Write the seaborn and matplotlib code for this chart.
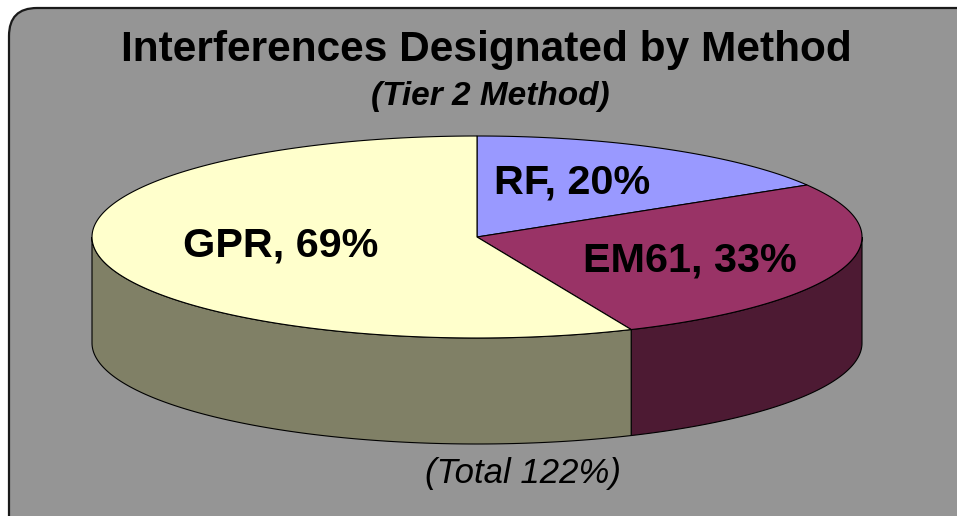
import numpy as np
import matplotlib
matplotlib.use('Agg')
import matplotlib.pyplot as plt
import seaborn as sns
from matplotlib.patches import Polygon, FancyBboxPatch

# data
methods = ['RF', 'EM61', 'GPR']
percent = [20, 33, 69]
top_colors = ['#9999FF', '#993366', '#FFFFCC']
side_colors = ['#4D4D80', '#4D1A33', '#808066']

title = 'Interferences Designated by Method'
subtitle = '(Tier 2 Method)'
footer = f'(Total {sum(percent)}%)'

sns.set_theme(style='white')
plt.rcParams['font.family'] = ['Liberation Sans', 'DejaVu Sans']

W, H = 957, 516
fig = plt.figure(figsize=(W / 100, H / 100), dpi=100)
fig.patch.set_facecolor('white')
ax = fig.add_axes([0, 0, 1, 1])
ax.set_xlim(0, W)
ax.set_ylim(H, 0)
ax.axis('off')

# chart area with rounded corners
ax.add_patch(FancyBboxPatch((9, 8), 980, 540, boxstyle='round,pad=0,rounding_size=28',
                            facecolor='#959595', edgecolor='#1a1a1a', lw=1.6, zorder=0))

# 3D pie geometry
cx, cy, rx, ry, depth = 477, 237, 385, 101, 106


def ell(t):
    return cx + rx * np.cos(t), cy - ry * np.sin(t)


fracs = np.array(percent) / sum(percent)
bounds = np.pi / 2 - 2 * np.pi * np.concatenate([[0], np.cumsum(fracs)])

# side walls (front half only)
for i in range(len(methods)):
    a0, a1 = bounds[i], bounds[i + 1]
    lo, hi = max(a1, -np.pi), min(a0, 0.0)
    if hi <= lo:
        continue
    t = np.linspace(hi, lo, 120)
    x, y = ell(t)
    pts = np.column_stack([np.r_[x, x[::-1]], np.r_[y, y[::-1] + depth]])
    ax.add_patch(Polygon(pts, closed=True, facecolor=side_colors[i],
                         edgecolor='black', lw=0.8, zorder=2))

# top faces
for i in range(len(methods)):
    a0, a1 = bounds[i], bounds[i + 1]
    t = np.linspace(a0, a1, 200)
    x, y = ell(t)
    pts = np.column_stack([np.r_[cx, x], np.r_[cy, y]])
    ax.add_patch(Polygon(pts, closed=True, facecolor=top_colors[i],
                         edgecolor='black', lw=0.8, zorder=3))

# data labels
label_pos = [(0.50, 0.62), (0.58, 0.76), (0.52, 0.40)]
for i, m in enumerate(methods):
    mid = (bounds[i] + bounds[i + 1]) / 2
    fx, fy = label_pos[i]
    x = cx + rx * fx * np.cos(mid)
    y = cy - ry * fy * np.sin(mid)
    ax.text(x, y, f'{m}, {percent[i]}%', ha='center', va='center',
            fontsize=29.8, fontweight='bold', color='black', zorder=5)

ax.text(486, 50, title, ha='center', va='center', fontsize=30.5,
        fontweight='bold', color='black')
ax.text(490, 97, subtitle, ha='center', va='center', fontsize=24,
        fontweight='bold', fontstyle='italic', color='black')
ax.text(523, 474, footer, ha='center', va='center', fontsize=25,
        fontstyle='italic', color='black')

fig.savefig('out.png', dpi=100, facecolor=fig.get_facecolor())
